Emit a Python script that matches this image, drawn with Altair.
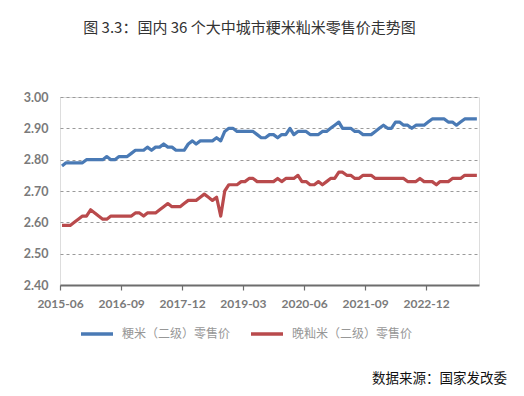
import altair as alt
import pandas as pd

# Monthly data, 2015-06 .. 2023-12
start_month = "2015-06"
n_months = 103

japonica = [
    2.78, 2.79, 2.79, 2.79, 2.79, 2.79, 2.80, 2.80, 2.80, 2.80, 2.80,
    2.81, 2.80, 2.80, 2.81, 2.81, 2.81, 2.82, 2.83, 2.83, 2.83, 2.84,
    2.83, 2.84, 2.84, 2.85, 2.84, 2.84, 2.83, 2.83, 2.83, 2.85, 2.86,
    2.85, 2.86, 2.86, 2.86, 2.86, 2.87, 2.86, 2.89, 2.90, 2.90, 2.89,
    2.89, 2.89, 2.89, 2.89, 2.88, 2.87, 2.87, 2.88, 2.88, 2.87, 2.88,
    2.88, 2.90, 2.88, 2.89, 2.89, 2.89, 2.88, 2.88, 2.88, 2.89, 2.89,
    2.90, 2.91, 2.92, 2.90, 2.90, 2.90, 2.89, 2.89, 2.88, 2.88, 2.88,
    2.89, 2.90, 2.91, 2.90, 2.90, 2.92, 2.92, 2.91, 2.91, 2.90, 2.91,
    2.91, 2.91, 2.92, 2.93, 2.93, 2.93, 2.93, 2.92, 2.92, 2.91, 2.92,
    2.93, 2.93, 2.93, 2.93,
]

indica = [
    2.59, 2.59, 2.59, 2.60, 2.61, 2.62, 2.62, 2.64, 2.63, 2.62, 2.61,
    2.61, 2.62, 2.62, 2.62, 2.62, 2.62, 2.62, 2.63, 2.63, 2.62, 2.63,
    2.63, 2.63, 2.64, 2.65, 2.66, 2.65, 2.65, 2.65, 2.66, 2.67, 2.67,
    2.67, 2.68, 2.69, 2.68, 2.67, 2.68, 2.62, 2.70, 2.72, 2.72, 2.72,
    2.73, 2.73, 2.74, 2.74, 2.73, 2.73, 2.73, 2.73, 2.73, 2.74, 2.73,
    2.74, 2.74, 2.74, 2.75, 2.73, 2.73, 2.72, 2.72, 2.73, 2.72, 2.73,
    2.74, 2.74, 2.76, 2.76, 2.75, 2.75, 2.74, 2.74, 2.75, 2.75, 2.75,
    2.74, 2.74, 2.74, 2.74, 2.74, 2.74, 2.74, 2.74, 2.73, 2.73, 2.73,
    2.74, 2.73, 2.73, 2.73, 2.72, 2.73, 2.73, 2.73, 2.74, 2.74, 2.74,
    2.75, 2.75, 2.75, 2.75,
]

series_names = ["粳米（二级）零售价", "晚籼米（二级）零售价"]
series_colors = ["#4a7ab5", "#b94a4c"]
tick_labels = ["2015-06", "2016-09", "2017-12", "2019-03", "2020-06", "2021-09", "2022-12"]
y_ticks = [2.40, 2.50, 2.60, 2.70, 2.80, 2.90, 3.00]

months = pd.date_range(start_month + "-01", periods=n_months, freq="MS")
mid = months + pd.Timedelta(days=15)

df = pd.concat([
    pd.DataFrame({"date": mid, "price": japonica, "series": series_names[0]}),
    pd.DataFrame({"date": mid, "price": indica, "series": series_names[1]}),
])

x_domain = [pd.Timestamp(start_month + "-01").isoformat(),
            (months[-1] + pd.offsets.MonthBegin(1)).isoformat()]
tick_dates = [pd.Timestamp(t + "-01").isoformat() for t in tick_labels]

label_font = "Lato"
grey = "#7a7a7a"

lines = alt.Chart(df).mark_line(strokeWidth=3.2, strokeJoin="round").encode(
    x=alt.X("date:T",
            scale=alt.Scale(domain=x_domain),
            axis=alt.Axis(values=tick_dates, format="%Y-%m", title=None,
                          grid=False, domain=True, domainColor="#6d6d6d",
                          domainWidth=2, ticks=True, tickColor="#6d6d6d",
                          tickSize=5, tickWidth=1.2, labelFont=label_font,
                          labelFontWeight="bold", labelFontSize=12,
                          labelColor=grey, labelPadding=8,
                          labelFlush=False, labelOverlap=False)),
    y=alt.Y("price:Q",
            scale=alt.Scale(domain=[2.40, 3.00], nice=False, zero=False),
            axis=alt.Axis(values=y_ticks, format=".2f", title=None,
                          domain=False, ticks=False, grid=True,
                          gridColor="#9a9a9a", gridDash=[3, 3], gridWidth=1,
                          labelFont=label_font, labelFontWeight="bold",
                          labelFontSize=12.5, labelColor=grey,
                          labelPadding=12)),
    color=alt.Color("series:N",
                    scale=alt.Scale(domain=series_names, range=series_colors),
                    legend=alt.Legend(title=None, orient="none", legendX=19,
                                      legendY=219, direction="horizontal",
                                      symbolType="stroke", symbolSize=1024,
                                      symbolStrokeWidth=3.5,
                                      labelFont="Noto Sans CJK SC",
                                      labelFontSize=12, labelColor="#979797",
                                      labelOffset=7, columnPadding=13)),
)

source = alt.Chart(pd.DataFrame({"t": ["数据来源：国家发改委"]})).mark_text(
    align="right", baseline="middle", font="Noto Sans CJK SC",
    fontSize=13.5, color="#111111"
).encode(text="t:N", x=alt.value(447), y=alt.value(282))

chart = alt.layer(lines, source).properties(
    width=419,
    height=188,
    autosize=alt.AutoSizeParams(type="none"),
    padding={"left": 52, "top": 89, "right": 37, "bottom": 103},
    title=alt.TitleParams(
        text="图 3.3：国内 36 个大中城市粳米籼米零售价走势图",
        font="Noto Sans CJK SC", fontSize=15, fontWeight="normal",
        color="#333333", anchor="middle", dx=-20, offset=55,
    ),
).configure_view(stroke=None).configure(background="white")

chart.save("out.html", embed_options={"renderer": "svg", "actions": False})
